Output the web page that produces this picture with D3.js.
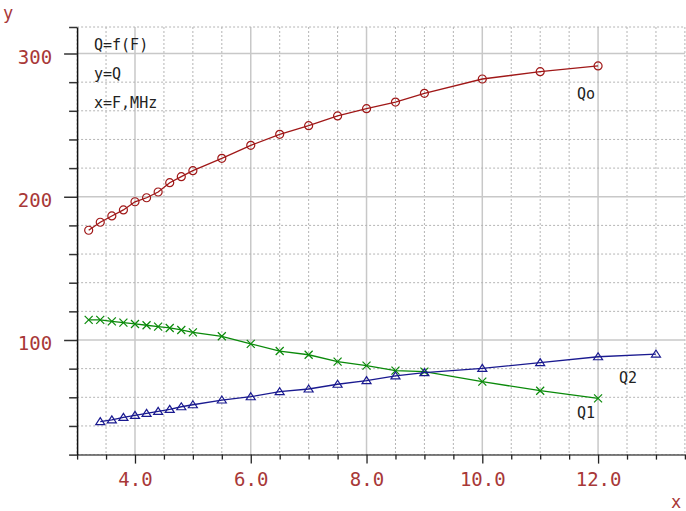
<!DOCTYPE html>
<html>
<head>
<meta charset="utf-8">
<script src="https://cdn.jsdelivr.net/npm/d3@7"></script>
<style>
  body { margin: 0; background: #fff; }
  text { font-family: "DejaVu Sans Mono", monospace; }
</style>
</head>
<body>
<div id="chart"></div>
<script>
// frequency, MHz
const freqQ = [3.2, 3.4, 3.6, 3.8, 4.0, 4.2, 4.4, 4.6, 4.8, 5.0, 5.5, 6.0, 6.5, 7.0, 7.5, 8.0, 8.5, 9.0, 10.0, 11.0, 12.0]
const qo = [176.6, 182.2, 186.6, 190.8, 196.5, 199.3, 203.3, 209.8, 214.0, 218.2, 226.8, 235.9, 243.6, 249.6, 256.4, 261.5, 266.1, 272.2, 282.2, 287.3, 291.3]
const q1 = [114.0, 114.0, 113.0, 112.1, 111.2, 110.3, 109.3, 108.4, 107.0, 105.3, 102.6, 97.3, 92.3, 89.7, 84.9, 82.1, 78.6, 77.9, 70.9, 64.6, 59.3]
const freqQ2 = [3.4, 3.6, 3.8, 4.0, 4.2, 4.4, 4.6, 4.8, 5.0, 5.5, 6.0, 6.5, 7.0, 7.5, 8.0, 8.5, 9.0, 10.0, 11.0, 12.0, 13.0]
const q2 = [43.0, 44.2, 46.0, 47.4, 48.8, 50.2, 51.6, 53.4, 54.8, 58.1, 60.4, 63.9, 65.8, 69.1, 71.6, 74.9, 77.2, 80.2, 84.2, 88.3, 90.2]

const xTicks = d3.range(3, 13.51, 0.5)
const yTicks = d3.range(20, 301, 20)
const notes = ["Q=f(F)", "y=Q", "x=F,MHz"]

const width = 686, height = 511
const red = "#a83838"

const svg = d3.select("#chart").append("svg")
    .attr("width", width)
    .attr("height", height)

const x = d3.scaleLinear().domain([3, 13.5]).range([77.1, 684.9])
const y = d3.scaleLinear().domain([20, 318.5]).range([454.6, 27])

// grid
const grid = svg.append("g")
xTicks.forEach(v => {
    const major = v % 2 === 0
    grid.append("line")
        .attr("x1", x(v)).attr("x2", x(v))
        .attr("y1", y(318.5)).attr("y2", y(20))
        .attr("stroke", major ? "#c8c8c8" : "#b4b4b4")
        .attr("stroke-width", major ? 1.5 : 1)
        .attr("stroke-dasharray", major ? null : "2,2")
})
yTicks.concat([318.5]).forEach(v => {
    const major = v % 100 === 0
    grid.append("line")
        .attr("x1", x(3)).attr("x2", x(13.5))
        .attr("y1", y(v)).attr("y2", y(v))
        .attr("stroke", major ? "#c8c8c8" : "#b4b4b4")
        .attr("stroke-width", major ? 1.5 : 1)
        .attr("stroke-dasharray", major ? null : "2,2")
})

// axes
const xAxis = svg.append("g")
    .attr("transform", "translate(0," + y(20) + ")")
    .call(d3.axisBottom(x).tickValues(xTicks).tickSizeOuter(0)
        .tickFormat(d => (d % 2 === 0 && d >= 4) ? d.toFixed(1) : ""))
xAxis.select(".domain").attr("stroke", "#555").attr("stroke-width", 1.5)
xAxis.selectAll(".tick line")
    .attr("y2", d => d % 2 === 0 ? 9 : 5)
    .attr("stroke", "#222")
    .attr("stroke-width", 1.3)
xAxis.selectAll(".tick text")
    .attr("y", 31.5).attr("dy", 0)
    .attr("fill", red)
    .style("font-size", "19px")
    .style("font-family", "DejaVu Sans Mono")

const yAxis = svg.append("g")
    .attr("transform", "translate(" + x(3) + ",0)")
    .call(d3.axisLeft(y).tickValues(yTicks.concat([318.5])).tickSizeOuter(0)
        .tickFormat(d => d % 100 === 0 ? d : ""))
yAxis.select(".domain").attr("stroke", "#111").attr("stroke-width", 1.5)
yAxis.selectAll(".tick line")
    .attr("x2", d => d % 100 === 0 ? -13 : -8)
    .attr("stroke", "#333")
    .attr("stroke-width", 1.5)
yAxis.selectAll(".tick text")
    .attr("x", -25).attr("y", 3).attr("dy", "0.35em")
    .attr("fill", red)
    .style("font-size", "19px")
    .style("font-family", "DejaVu Sans Mono")

svg.append("text").attr("x", 3).attr("y", 19)
    .attr("fill", red).style("font-size", "17px").text("y")
svg.append("text").attr("x", 671).attr("y", 508)
    .attr("fill", red).style("font-size", "17px").text("x")

// notes
notes.forEach((t, i) => {
    svg.append("text")
        .attr("x", 94).attr("y", 50 + i * 29)
        .attr("fill", "#222")
        .style("font-size", "15px")
        .text(t)
})

const line = d3.line().x(d => x(d[0])).y(d => y(d[1]))

function series(xs, ys, color) {
    const pts = xs.map((v, i) => [v, ys[i]])
    svg.append("path")
        .datum(pts)
        .attr("d", line)
        .attr("fill", "none")
        .attr("stroke", color)
        .attr("stroke-width", 1.3)
    return svg.append("g").selectAll("path.m")
        .data(pts)
        .enter()
        .append("path")
        .attr("class", "m")
        .attr("transform", d => "translate(" + x(d[0]) + "," + y(d[1]) + ")")
        .attr("fill", "none")
        .attr("stroke", color)
        .attr("stroke-width", 1.2)
}

series(freqQ, qo, "#a01818").attr("d", "M-4,0A4,4 0 1,0 4,0A4,4 0 1,0 -4,0")
series(freqQ, q1, "#0a8a0a").attr("d", "M-4,-4L4,4M-4,4L4,-4")
series(freqQ2, q2, "#1a1a90").attr("d", "M0,-4L4.5,3L-4.5,3Z")

// curve labels
const labels = [["Qo", 577, 99], ["Q2", 619, 383], ["Q1", 577, 418]]
labels.forEach(l => {
    svg.append("text")
        .attr("x", l[1]).attr("y", l[2])
        .attr("fill", "#222")
        .style("font-size", "15px")
        .text(l[0])
})
</script>
</body>
</html>
